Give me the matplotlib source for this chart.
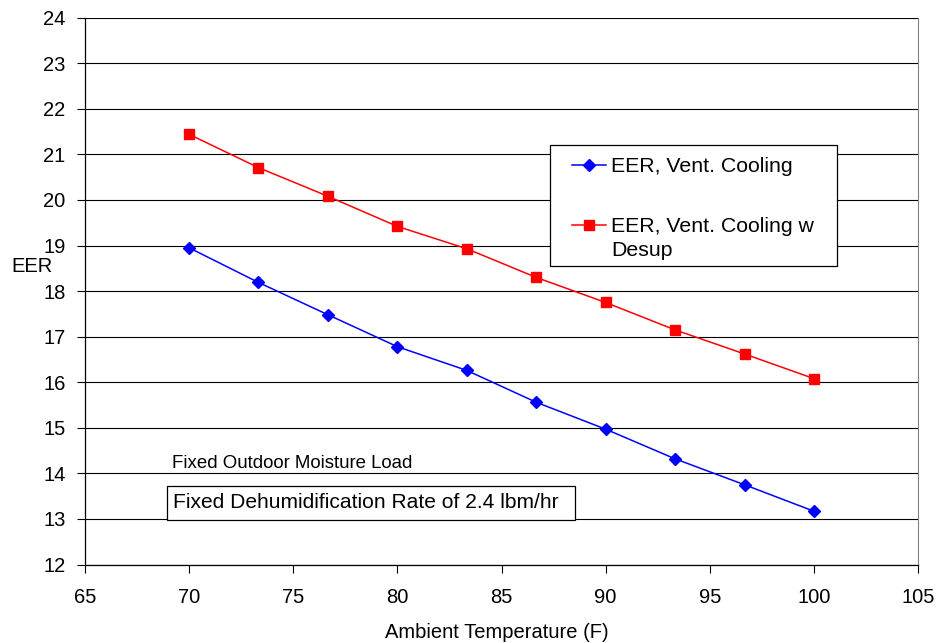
import matplotlib
matplotlib.use("Agg")
import matplotlib.pyplot as plt
from matplotlib.patches import Rectangle

plt.rcParams['font.family'] = ['Liberation Sans', 'DejaVu Sans']

# ambient temperature (F)
temps = [70, 73.33, 76.67, 80, 83.33, 86.67, 90, 93.33, 96.67, 100]
# EER values
eer_vent = [18.95, 18.19, 17.48, 16.78, 16.26, 15.56, 14.97, 14.32, 13.75, 13.17]
eer_desup = [21.44, 20.71, 20.08, 19.42, 18.93, 18.30, 17.75, 17.15, 16.62, 16.08]
etiquetas = ['EER, Vent. Cooling', 'EER, Vent. Cooling w']
resto_etiqueta = 'Desup'

W, H = 936, 643
fig = plt.figure(figsize=(W / 100, H / 100), dpi=100)
ax = fig.add_axes([85 / W, 1 - 564.5 / H, (918 - 85) / W, (564.5 - 17.7) / H])


def px(x, y):
    # pixel position (from top left) -> figure fraction
    return x / W, 1 - y / H


ax.plot(temps, eer_vent, color='#0000ff', lw=1.1, marker='D', ms=6.5,
        label=etiquetas[0])
ax.plot(temps, eer_desup, color='#ff0000', lw=1.1, marker='s', ms=7.5,
        label=etiquetas[1])

ax.set_xlim(65, 105)
ax.set_ylim(12, 24)
ax.set_xticks(range(65, 106, 5))
ax.set_yticks(range(12, 25))
ax.grid(axis='y', color='black', lw=0.8)
ax.set_axisbelow(True)
ax.tick_params(labelsize=14.5, length=6, width=0.8, direction='out', color='black')
ax.tick_params(axis='x', pad=11)
ax.tick_params(axis='y', pad=8)

ax.spines['top'].set_visible(False)
ax.spines['right'].set_color('#808080')
ax.spines['left'].set_linewidth(0.9)
ax.spines['bottom'].set_linewidth(0.9)

fig.text(*px(11, 267), 'EER', fontsize=14.5, ha='left', va='center')
fig.text(*px(497, 632), 'Ambient Temperature (F)', fontsize=14.5,
         ha='center', va='center')

# notes
fig.text(*px(172, 464), 'Fixed Outdoor Moisture Load', fontsize=13.4,
         ha='left', va='center')
x0, y0 = px(167, 520)
fig.patches.append(Rectangle((x0, y0), 408 / W, 34 / H, transform=fig.transFigure,
                             facecolor='white', edgecolor='black', lw=0.9,
                             zorder=3))
fig.text(*px(173, 503), 'Fixed Dehumidification Rate of 2.4 lbm/hr',
         fontsize=15.1, ha='left', va='center', zorder=4)

# legend, frame drawn by hand
lx, ly = px(550, 266)
ax.add_patch(Rectangle((lx, ly), 287 / W, 121 / H, transform=fig.transFigure,
                       facecolor='white', edgecolor='black', lw=0.9,
                       zorder=4, clip_on=False))
leg = ax.legend(loc='upper left', bbox_to_anchor=px(572, 157),
                bbox_transform=fig.transFigure, fontsize=15.3, frameon=False,
                handlelength=1.6, handletextpad=0.25, borderpad=0,
                labelspacing=1.95, borderaxespad=0)
leg.set_zorder(5)

fig.canvas.draw()
caja = leg.get_texts()[1].get_window_extent()
fig.text(caja.x0 / W, (caja.y0 - 24) / H + caja.height / H / 2, resto_etiqueta,
         fontsize=15.3, ha='left', va='center', zorder=6)

fig.savefig('out.png', dpi=100)
